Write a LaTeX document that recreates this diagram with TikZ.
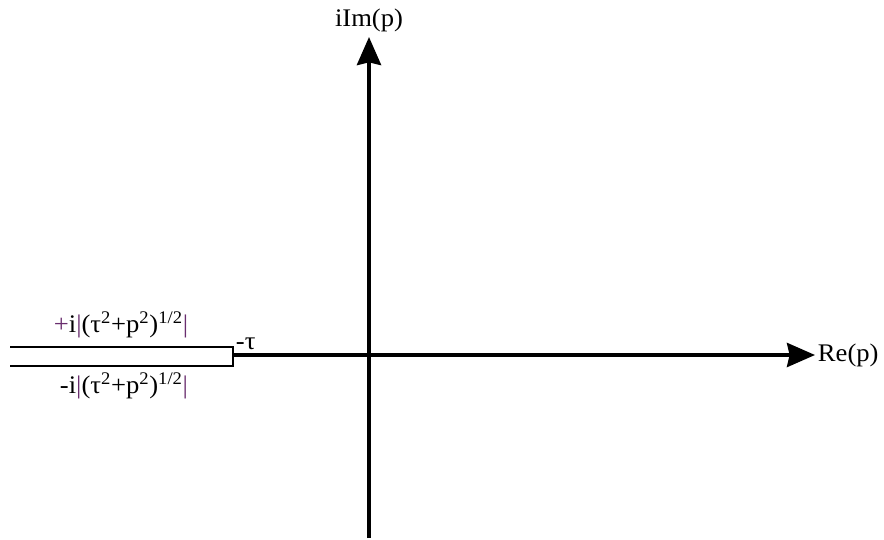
\documentclass[tikz,border=0pt]{standalone}
\usepackage{fontspec}
\setmainfont{Liberation Serif}[FakeStretch=1.05]
\usetikzlibrary{
  arrows.meta,  % Stealth 箭头
  positioning   % 节点相对定位
}
\tikzset{
  axis line/.style={
    line width=3pt,
    -{Stealth[length=21pt, width=18pt, inset=2pt]}
  },
  cut line/.style={
    line width=1pt
  },
  axis label/.style={
    font=\fontsize{19}{22}\selectfont,
    inner sep=1pt
  },
  cut label/.style={
    font=\fontsize{19}{22}\selectfont,
    inner sep=0pt
  }
}
\definecolor{barpurple}{RGB}{105,45,110}
\newcommand{\rootbar}{\textcolor{barpurple}{|}}
\newcommand{\cutroot}{\rootbar(τ\textsuperscript{2}+p\textsuperscript{2})\textsuperscript{1/2}\rootbar}

\begin{document}
\begin{tikzpicture}[x=0.75pt, y=-0.75pt]
  % 画布按参考图的像素尺寸
  \useasboundingbox (0,0) rectangle (884,539);

  % 1. 关键点
  \coordinate (origin) at (369,355);
  \coordinate (cut end) at (233,355);
  \coordinate (re tip) at (815,355);
  \coordinate (im tip) at (369,37);
  \coordinate (im foot) at (369,538);

  % 2. 支割线 (左侧细长矩形，右端在 -tau)
  \draw[cut line] (10,347) -- (233,347) -- (233,366) -- (10,366);

  % 3. 实轴与虚轴
  \draw[axis line] (cut end) -- (re tip);
  \draw[axis line] (im foot) -- (im tip);

  % 4. 轴标签
  \node[axis label, right=1pt of re tip] (re label) {Re(p)};
  \node[axis label, above=3pt of im tip] (im label) {iIm(p)};
  \node[axis label, above right=3pt and 1pt of cut end] (tau label) {-τ};

  % 5. 割线两岸的取值
  \node[cut label] (upper label) at (121,325)
    {\textcolor{barpurple}{+}i\cutroot};
  \node[cut label] (lower label) at (124,386) {-i\cutroot};
\end{tikzpicture}
\end{document}
